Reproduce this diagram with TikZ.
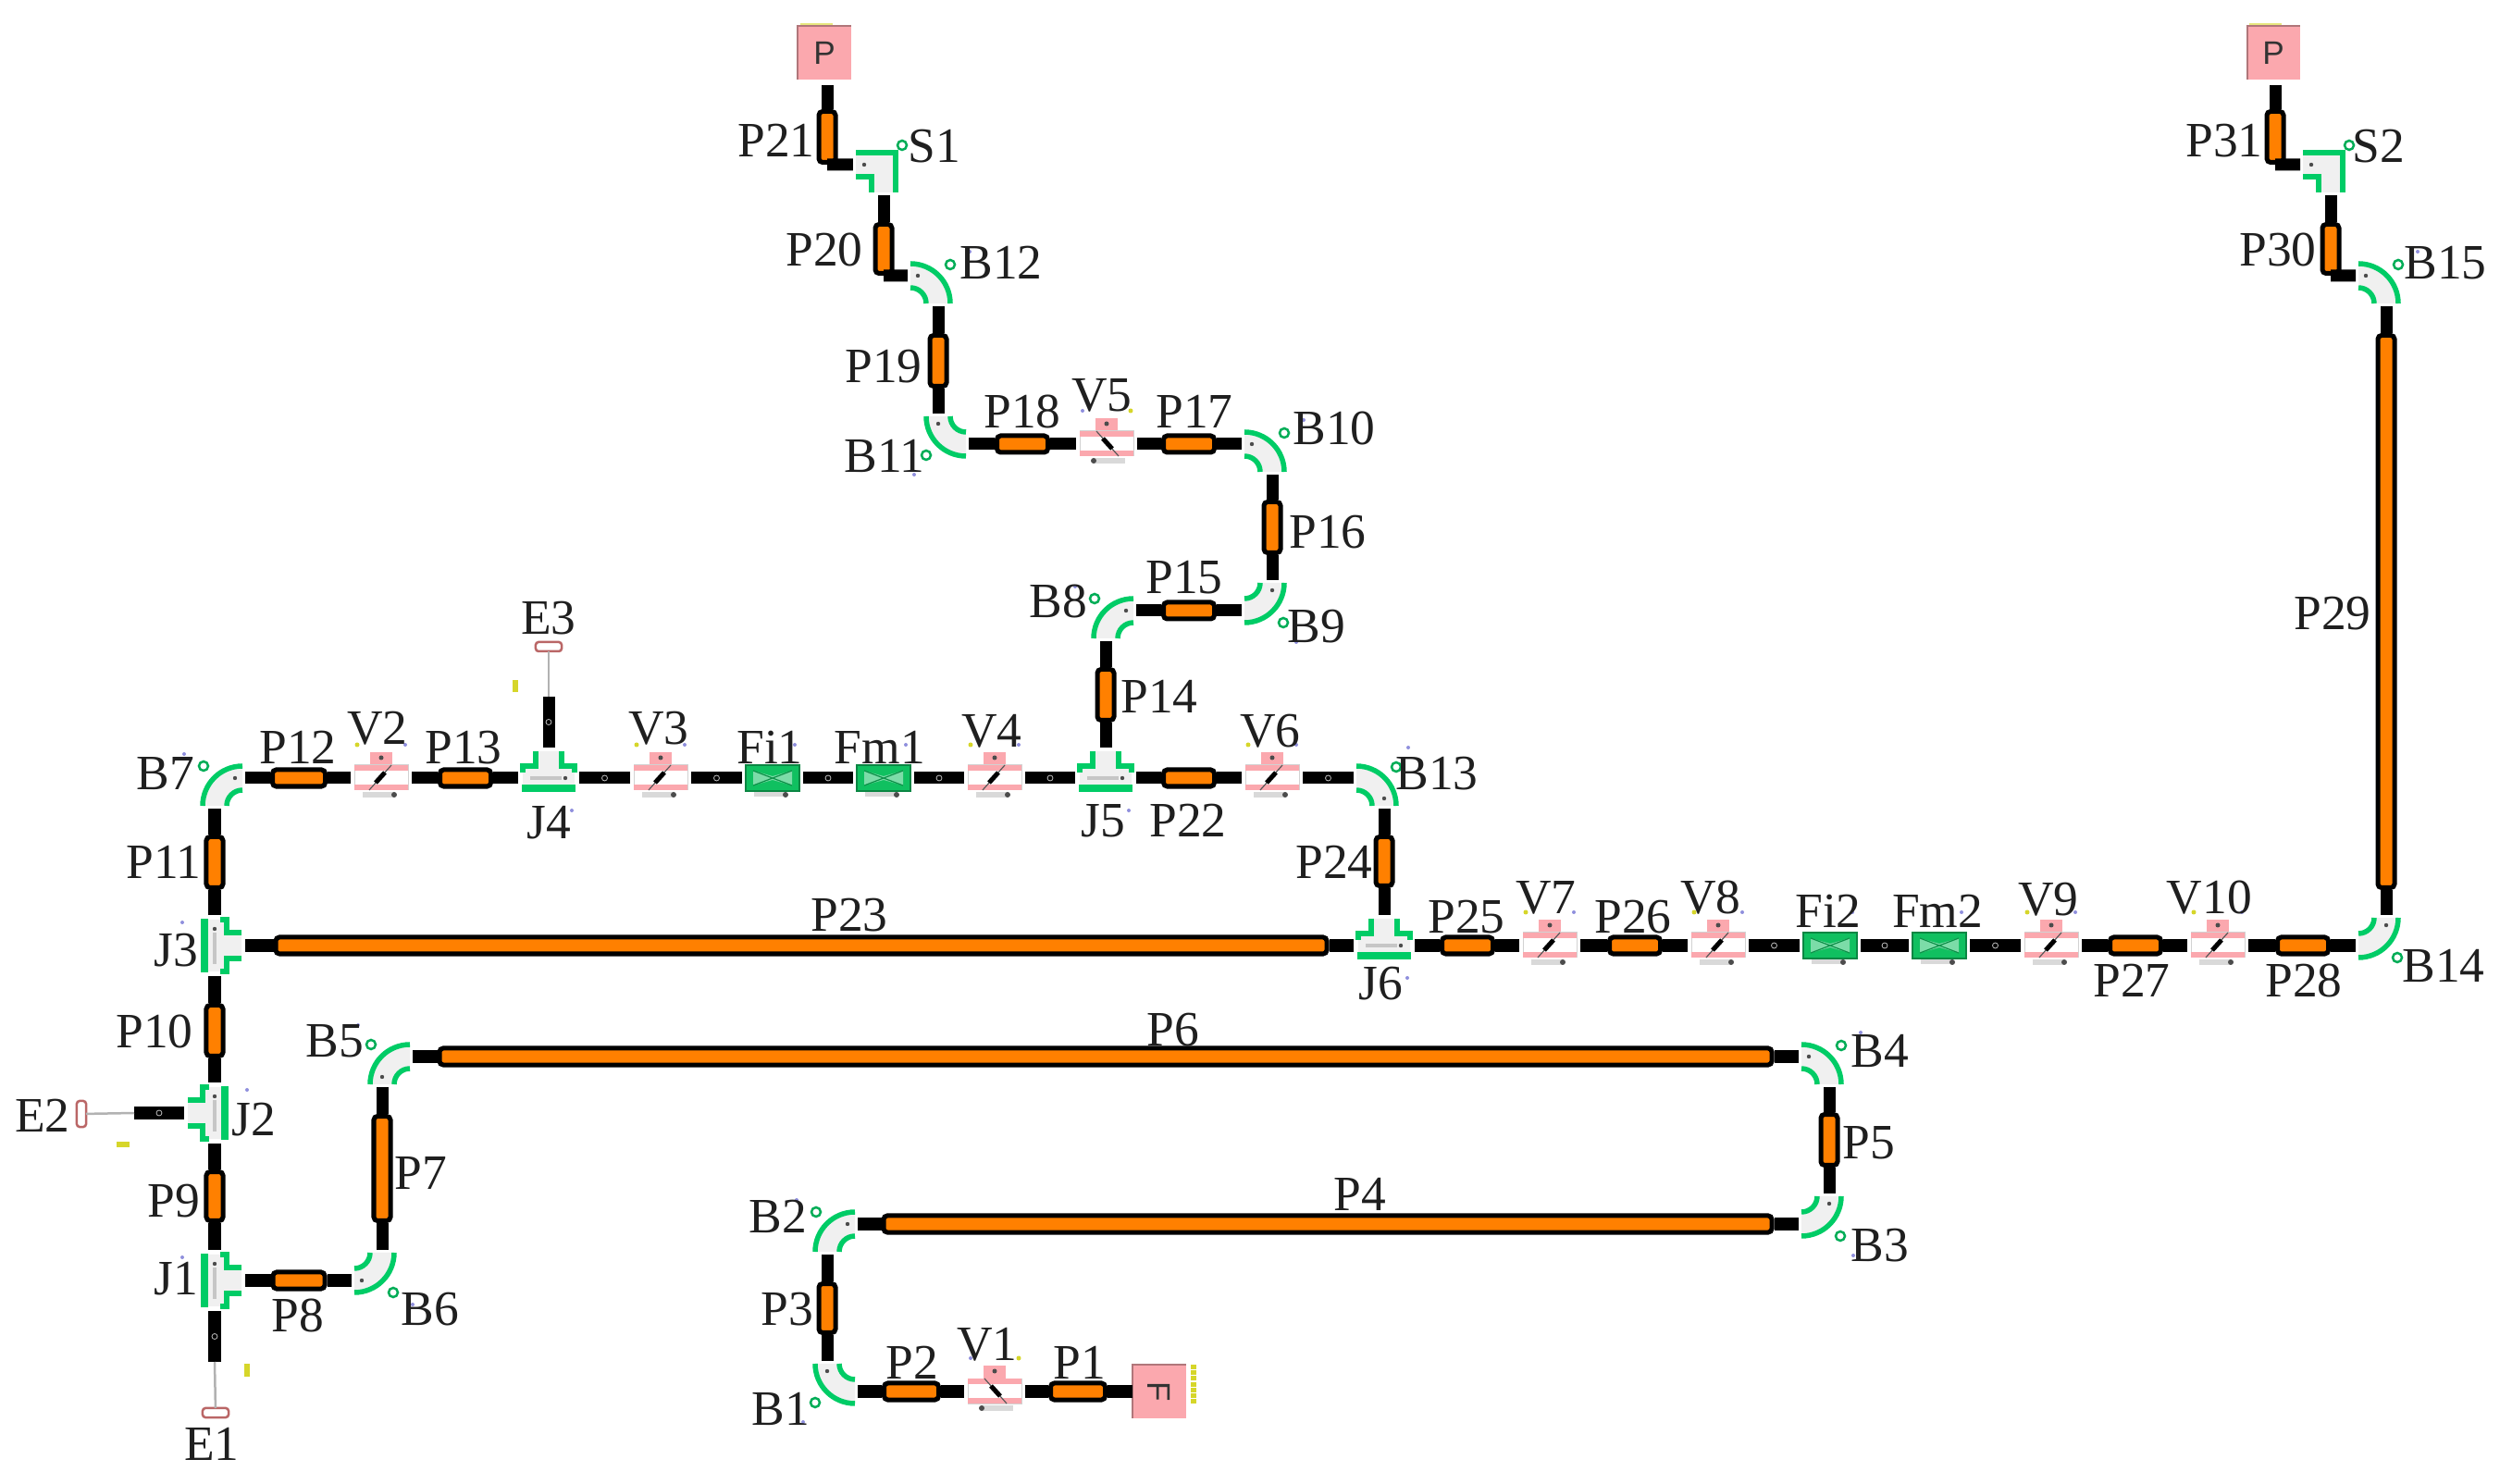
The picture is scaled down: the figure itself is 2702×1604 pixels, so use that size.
\documentclass[tikz,border=0pt]{standalone}
\usepackage{fontspec}
\setmainfont{Liberation Serif}
\newfontfamily\tagfont{Liberation Sans}
\usetikzlibrary{calc}
\definecolor{pipeorange}{HTML}{FF8000}
\definecolor{fitgreen}{HTML}{00CC66}
\definecolor{meterfill}{HTML}{10C060}
\definecolor{fitpink}{HTML}{FBA8AE}
\definecolor{dotyellow}{HTML}{D6D62A}
\definecolor{dotblue}{HTML}{8F8FDD}
\tikzset{
    lab/.style={font=\fontsize{15.2}{17}\selectfont, inner sep=0pt, text=black!88},
    pipe/.style={draw=black, fill=pipeorange, line width=.05cm, rounded corners=.04cm, inner sep=0pt},
    pipeh/.style={pipe, minimum width=#1*.01cm-.05cm, minimum height=.18cm},
    pipev/.style={pipe, minimum height=#1*.01cm-.05cm, minimum width=.18cm},
    port/.style={minimum size=.66cm, inner sep=0pt, outer sep=0pt},
    source/.style={fill=fitpink, minimum width=.57cm, minimum height=.58cm, inner sep=0pt, outer sep=0pt, font=\tagfont\fontsize{10}{10}\selectfont, text=black!80},
    endcap/.style={draw=red!55!black!60, fill=white, line width=.025cm, rounded corners=.03cm, minimum width=.28cm, minimum height=.1cm, inner sep=0pt, outer sep=0pt},
    stub/.style={line width=.13cm},
    thinpipe/.style={line width=.025cm, draw=gray!60},
    joint/.style={circle, draw=gray!50, fill=black, line width=.008cm, minimum size=.06cm, inner sep=0pt},
    fitline/.style={draw=fitgreen, line width=.055cm},
    fitbody/.style={fill=gray!12},
    ring/.style={draw=fitgreen!85!black, fill=white, line width=.025cm},
    tick/.style={fill=dotyellow, inner sep=0pt, minimum width=.06cm, minimum height=.13cm},
    bendfit/.pic={
        \bendbody
        \fill[black!70] (-22,0) circle (.022cm);
        \fill[dotblue] (34,-26) circle (.02cm);
    },
    bendalt/.pic={
        \bendbody
        \fill[black!70] (0,22) circle (.022cm);
        \fill[dotblue] (26,-33) circle (.02cm);
    },
    squarefit/.pic={
        \fill[fitbody] (-30,-13) -- (13,-13) -- (13,30) -- (-13,30) -- (-13,13) -- (-30,13) -- cycle;
        \draw[fitline] (-30,-13) -- (13,-13) -- (13,30);
        \draw[fitline] (-30,13) -- (-13,13) -- (-13,30);
        \draw[ring] (20,-21) circle (.05cm);
        \fill[black!70] (-21,0) circle (.022cm);
    },
    teefit/.pic={
        \fill[fitbody] (-14,-29) -- (-14,-13) -- (-28,-13) -- (-28,14) -- (28,14) -- (28,-13) -- (14,-13) -- (14,-29) -- cycle;
        \draw[fitline] (-14,-29) -- (-14,-13) -- (-28,-13) -- (-28,-6);
        \draw[fitline] (14,-29) -- (14,-13) -- (28,-13) -- (28,-6);
        \fill[fitgreen] (-29,7) rectangle (29,15);
        \fill[gray!45] (-20,-2) rectangle (14,2);
        \fill[black!70] (18,0) circle (.022cm);
        \fill[dotblue] (25,35) circle (.02cm);
    },
    valvefit/.pic={
        \fill[fitpink] (-12,-28) rectangle (12,-14);
        \fill[gray!30] (-20,15) rectangle (14,21);
        \fill[black!70] (14,18) circle (.03cm);
        \fill[white] (-29,-14) rectangle (29,13);
        \draw[gray!35, line width=.01cm] (-29,-14) rectangle (29,13);
        \fill[fitpink] (-29,-14) rectangle (29,-8);
        \fill[fitpink] (-29,7) rectangle (29,13);
        \draw[black!65, line width=.012cm] (-13,13) -- (11,-14);
        \draw[black, line width=.05cm] (-6,5) -- (4,-6);
        \fill[black!70] (0,-22) circle (.025cm);
        \fill[dotyellow] (-26,-36) circle (.025cm);
        \fill[dotblue] (26,-36) circle (.02cm);
    },
    meterfit/.pic={
        \fill[gray!30] (-20,15) rectangle (14,20);
        \fill[black!70] (14,18) circle (.03cm);
        \fill[meterfill] (-29,-14) rectangle (29,14);
        \draw[meterfill!70!black, line width=.015cm] (-29,-14) rectangle (29,14);
        \fill[meterfill!55!white] (-21,-8) -- (0,-2) -- (21,-8) -- (21,8) -- (0,2) -- (-21,8) -- cycle;
        \draw[meterfill!75!black, line width=.012cm] (-21,-8) -- (21,8) (-21,8) -- (21,-8);
        \fill[dotblue] (24,-36) circle (.02cm);
    },
}
\newcommand{\bendbody}{%
    \fill[fitbody] (-30,-13) .. controls (-6.25,-13) and (13,6.25) .. (13,30) -- (-13,30) .. controls (-13,20.6) and (-20.6,13) .. (-30,13) -- cycle;
    \draw[fitline] (-30,-13) .. controls (-6.25,-13) and (13,6.25) .. (13,30);
    \draw[fitline] (-30,13) .. controls (-20.6,13) and (-13,20.6) .. (-13,30);
    \draw[ring] (13,-12) circle (.05cm);
}

\begin{document}
\begin{tikzpicture}[x=.01cm, y=-.01cm]
    \useasboundingbox (0,0) rectangle (2702,1604);

    % sources and dead ends
    \node[source] (Src1) at (891,57) {P};
    \node[source] (Src2) at (2457,57) {P};
    \node[source] (Feed) at (1253,1504) {\rotatebox{-90}{F}};
    \node[endcap] (E1) at (233,1527) {};
    \node[endcap, rotate=90] (E2) at (88,1204) {};
    \node[endcap] (E3) at (593,699) {};
    \coordinate (E1s) at (232,1472);
    \coordinate (E2s) at (145,1203);
    \coordinate (E3s) at (593,753);
    \draw[fitpink!70!black, line width=.02cm] (Src1.south west) -- (Src1.north west) -- (Src1.north east);
    \draw[fitpink!70!black, line width=.02cm] (Src2.south west) -- (Src2.north west) -- (Src2.north east);
    \draw[fitpink!70!black, line width=.02cm] (Feed.south west) -- (Feed.north west) -- (Feed.north east);
    \fill[dotyellow!60] (865,25) rectangle (900,27);
    \fill[dotyellow!60] (2431,25) rectangle (2466,27);
    \draw[dotyellow, line width=.06cm, dash pattern=on .05cm off .012cm] (1290,1475) -- (1290,1517);
    \node[tick] (T1) at (267,1481) {};
    \node[tick, rotate=90] (T2) at (133,1237) {};
    \node[tick] (T3) at (557,742) {};

    % pipes
    \node[pipeh=64] (P1) at (1165,1504) {};
    \node[pipeh=64] (P2) at (985,1504) {};
    \node[pipev=58] (P3) at (894,1414) {};
    \node[pipeh=965] (P4) at (1435,1323) {};
    \node[pipev=60] (P5) at (1977,1232) {};
    \node[pipeh=1445] (P6) at (1195,1142) {};
    \node[pipev=118] (P7) at (413,1263) {};
    \node[pipeh=61] (P8) at (323,1384) {};
    \node[pipev=58] (P9) at (232,1293) {};
    \node[pipev=60] (P10) at (232,1114) {};
    \node[pipev=60] (P11) at (232,932) {};
    \node[pipeh=62] (P12) at (323,841) {};
    \node[pipeh=60] (P13) at (503,841) {};
    \node[pipev=60] (P14) at (1195,751) {};
    \node[pipeh=60] (P15) at (1285,660) {};
    \node[pipev=60] (P16) at (1375,570) {};
    \node[pipeh=60] (P17) at (1285,480) {};
    \node[pipeh=60] (P18) at (1105,480) {};
    \node[pipev=60] (P19) at (1014,390) {};
    \node[pipev=58] (P20) at (955,269) {};
    \node[pipev=60] (P21) at (894,148) {};
    \node[pipeh=60] (P22) at (1285,841) {};
    \node[pipeh=1141] (P23) at (866,1022) {};
    \node[pipev=58] (P24) at (1496,931) {};
    \node[pipeh=60] (P25) at (1586,1022) {};
    \node[pipeh=60] (P26) at (1767,1022) {};
    \node[pipeh=60] (P27) at (2308,1022) {};
    \node[pipeh=60] (P28) at (2489,1022) {};
    \node[pipev=602] (P29) at (2579,661) {};
    \node[pipev=58] (P30) at (2519,269) {};
    \node[pipev=60] (P31) at (2459,148) {};

    % bends sit on the corner of their two runs
    \node[port] (B1) at (894,1504) {};   \pic[rotate=180] at (B1) {bendalt};
    \node[port] (B2) at (894,1323) {};   \pic[rotate=90] at (B2) {bendalt};
    \node[port] (B3) at (1977,1323) {};  \pic[rotate=270] at (B3) {bendfit};
    \node[port] (B4) at (1977,1142) {};  \pic at (B4) {bendfit};
    \node[port] (B5) at (413,1142) {};   \pic[rotate=90] at (B5) {bendfit};
    \node[port] (B6) at (413,1384) {};   \pic[rotate=270] at (B6) {bendalt};
    \node[port] (B7) at (232,841) {};    \pic[rotate=90] at (B7) {bendalt};
    \node[port] (B8) at (1195,660) {};   \pic[rotate=90] at (B8) {bendalt};
    \node[port] (B9) at (1375,660) {};   \pic[rotate=270] at (B9) {bendfit};
    \node[port] (B10) at (1375,480) {};  \pic at (B10) {bendfit};
    \node[port] (B11) at (1014,480) {};  \pic[rotate=180] at (B11) {bendalt};
    \node[port] (B12) at (1014,298) {};  \pic at (B12) {bendfit};
    \node[port] (B13) at (1496,841) {};  \pic at (B13) {bendalt};
    \node[port] (B14) at (2579,1022) {}; \pic[rotate=270] at (B14) {bendfit};
    \node[port] (B15) at (2579,298) {};  \pic at (B15) {bendfit};
    \node[port] (S1) at (955,178) {};    \pic at (S1) {squarefit};
    \node[port] (S2) at (2519,178) {};   \pic at (S2) {squarefit};

    % junctions
    \node[port] (J1) at (232,1384) {};  \pic[rotate=270, xscale=-1] at (J1) {teefit};
    \node[port] (J2) at (232,1203) {};  \pic[rotate=90] at (J2) {teefit};
    \node[port] (J3) at (232,1022) {};  \pic[rotate=270, xscale=-1] at (J3) {teefit};
    \node[port] (J4) at (593,841) {};   \pic at (J4) {teefit};
    \node[port] (J5) at (1195,841) {};  \pic at (J5) {teefit};
    \node[port] (J6) at (1496,1022) {}; \pic at (J6) {teefit};

    % valves, filters, flow meters
    \node[port] (V1) at (1075,1504) {};  \pic[xscale=-1] at (V1) {valvefit};
    \node[port] (V2) at (412,841) {};    \pic at (V2) {valvefit};
    \node[port] (V3) at (714,841) {};    \pic at (V3) {valvefit};
    \node[port] (V4) at (1075,841) {};   \pic at (V4) {valvefit};
    \node[port] (V5) at (1196,480) {};   \pic[xscale=-1] at (V5) {valvefit};
    \node[port] (V6) at (1375,841) {};   \pic at (V6) {valvefit};
    \node[port] (V7) at (1675,1022) {};  \pic at (V7) {valvefit};
    \node[port] (V8) at (1857,1022) {};  \pic at (V8) {valvefit};
    \node[port] (V9) at (2217,1022) {};  \pic at (V9) {valvefit};
    \node[port] (V10) at (2397,1022) {}; \pic at (V10) {valvefit};
    \node[port] (Fi1) at (835,841) {};   \pic at (Fi1) {meterfit};
    \node[port] (Fm1) at (955,841) {};   \pic at (Fm1) {meterfit};
    \node[port] (Fi2) at (1978,1022) {}; \pic at (Fi2) {meterfit};
    \node[port] (Fm2) at (2096,1022) {}; \pic at (Fm2) {meterfit};

    % first line
    \draw[stub] (Feed) -- (P1);
    \draw[stub] (P1) -- (V1);
    \draw[stub] (V1) -- (P2);
    \draw[stub] (P2) -- (B1);
    \draw[stub] (B1) -- (P3);
    \draw[stub] (P3) -- (B2);
    \draw[stub] (B2) -- (P4);
    \draw[stub] (P4) -- (B3);
    \draw[stub] (B3) -- (P5);
    \draw[stub] (P5) -- (B4);
    \draw[stub] (B4) -- (P6);
    \draw[stub] (P6) -- (B5);
    \draw[stub] (B5) -- (P7);
    \draw[stub] (P7) -- (B6);
    \draw[stub] (B6) -- (P8);
    \draw[stub] (P8) -- (J1);
    \draw[stub] (J1) -- (P9);
    \draw[stub] (P9) -- (J2);
    \draw[stub] (J2) -- (P10);
    \draw[stub] (P10) -- (J3);
    \draw[stub] (J3) -- (P11);
    \draw[stub] (P11) -- (B7);
    \draw[stub] (B7) -- (P12);
    \draw[stub] (P12) -- (V2);
    \draw[stub] (V2) -- (P13);
    \draw[stub] (P13) -- (J4);
    \draw[stub] (J4) -- node[joint] (j1) {} (V3);
    \draw[stub] (V3) -- node[joint] (j2) {} (Fi1);
    \draw[stub] (Fi1) -- node[joint] (j3) {} (Fm1);
    \draw[stub] (Fm1) -- node[joint] (j4) {} (V4);
    \draw[stub] (V4) -- node[joint] (j5) {} (J5);
    \draw[stub] (J5) -- (P14);
    \draw[stub] (P14) -- (B8);
    \draw[stub] (B8) -- (P15);
    \draw[stub] (P15) -- (B9);
    \draw[stub] (B9) -- (P16);
    \draw[stub] (P16) -- (B10);
    \draw[stub] (B10) -- (P17);
    \draw[stub] (P17) -- (V5);
    \draw[stub] (V5) -- (P18);
    \draw[stub] (P18) -- (B11);
    \draw[stub] (B11) -- (P19);
    \draw[stub] (P19) -- (B12);
    \draw[stub] (B12.west) -- (P20.south);
    \draw[stub] (P20) -- (S1);
    \draw[stub] (S1.west) -- (P21.south);
    \draw[stub, shorten >=.06cm] (P21.north) -- (P21.north |- Src1.south);

    % second line
    \draw[stub] (J5) -- (P22);
    \draw[stub] (P22) -- (V6);
    \draw[stub] (V6) -- node[joint] (j6) {} (B13);
    \draw[stub] (B13) -- (P24);
    \draw[stub] (P24) -- (J6);
    \draw[stub] (J3) -- (P23);
    \draw[stub] (P23) -- (J6);
    \draw[stub] (J6) -- (P25);
    \draw[stub] (P25) -- (V7);
    \draw[stub] (V7) -- (P26);
    \draw[stub] (P26) -- (V8);
    \draw[stub] (V8) -- node[joint] (j7) {} (Fi2);
    \draw[stub] (Fi2) -- node[joint] (j8) {} (Fm2);
    \draw[stub] (Fm2) -- node[joint] (j9) {} (V9);
    \draw[stub] (V9) -- (P27);
    \draw[stub] (P27) -- (V10);
    \draw[stub] (V10) -- (P28);
    \draw[stub] (P28) -- (B14);
    \draw[stub] (B14) -- (P29);
    \draw[stub] (P29) -- (B15);
    \draw[stub] (B15.west) -- (P30.south);
    \draw[stub] (P30) -- (S2);
    \draw[stub] (S2.west) -- (P31.south);
    \draw[stub, shorten >=.06cm] (P31.north) -- (P31.north |- Src2.south);

    % dead ends
    \draw[stub] (J1) -- node[joint] (j10) {} (E1s);
    \draw[stub] (J2) -- node[joint] (j11) {} (E2s);
    \draw[stub] (J4) -- node[joint] (j12) {} (E3s);
    \draw[thinpipe] (E1s) -- (E1);
    \draw[thinpipe] (E2s) -- (E2);
    \draw[thinpipe] (E3s) -- (E3);

    % labels
    \node[lab] (lP1) at (1167,1473) {P1};   \node[lab] (lP2) at (986,1473) {P2};
    \node[lab] (lP3) at (851,1415) {P3};    \node[lab] (lP4) at (1470,1291) {P4};
    \node[lab] (lP5) at (2020,1235) {P5};   \node[lab] (lP6) at (1268,1113) {P6};
    \node[lab] (lP7) at (455,1268) {P7};    \node[lab] (lP8) at (322,1422) {P8};
    \node[lab] (lP9) at (188,1298) {P9};    \node[lab] (lP10) at (167,1115) {P10};
    \node[lab] (lP11) at (177,932) {P11};   \node[lab] (lP12) at (322,808) {P12};
    \node[lab] (lP13) at (501,808) {P13};   \node[lab] (lP14) at (1253,753) {P14};
    \node[lab] (lP15) at (1280,624) {P15};  \node[lab] (lP16) at (1435,575) {P16};
    \node[lab] (lP17) at (1291,445) {P17};  \node[lab] (lP18) at (1105,445) {P18};
    \node[lab] (lP19) at (955,396) {P19};   \node[lab] (lP20) at (891,270) {P20};
    \node[lab] (lP21) at (839,152) {P21};   \node[lab] (lP22) at (1284,887) {P22};
    \node[lab] (lP23) at (918,989) {P23};   \node[lab] (lP24) at (1442,932) {P24};
    \node[lab] (lP25) at (1585,991) {P25};  \node[lab] (lP26) at (1765,991) {P26};
    \node[lab] (lP27) at (2304,1060) {P27}; \node[lab] (lP28) at (2490,1060) {P28};
    \node[lab] (lP29) at (2521,663) {P29};  \node[lab] (lP30) at (2462,270) {P30};
    \node[lab] (lP31) at (2404,152) {P31};
    \node[lab] (lB1) at (844,1523) {B1};    \node[lab] (lB2) at (841,1315) {B2};
    \node[lab] (lB3) at (2032,1346) {B3};   \node[lab] (lB4) at (2032,1136) {B4};
    \node[lab] (lB5) at (362,1125) {B5};    \node[lab] (lB6) at (465,1415) {B6};
    \node[lab] (lB7) at (179,836) {B7};     \node[lab] (lB8) at (1144,650) {B8};
    \node[lab] (lB9) at (1423,677) {B9};    \node[lab] (lB10) at (1442,463) {B10};
    \node[lab] (lB11) at (956,493) {B11};   \node[lab] (lB12) at (1082,284) {B12};
    \node[lab] (lB13) at (1553,836) {B13};  \node[lab] (lB14) at (2641,1044) {B14};
    \node[lab] (lB15) at (2643,284) {B15};
    \node[lab] (lS1) at (1010,158) {S1};    \node[lab] (lS2) at (2571,158) {S2};
    \node[lab] (lJ1) at (190,1382) {J1};    \node[lab] (lJ2) at (274,1210) {J2};
    \node[lab] (lJ3) at (190,1027) {J3};    \node[lab] (lJ4) at (593,889) {J4};
    \node[lab] (lJ5) at (1192,887) {J5};    \node[lab] (lJ6) at (1492,1063) {J6};
    \node[lab] (lE1) at (229,1561) {E1};    \node[lab] (lE2) at (46,1206) {E2};
    \node[lab] (lE3) at (593,668) {E3};
    \node[lab] (lV1) at (1067,1453) {V1};   \node[lab] (lV2) at (408,787) {V2};
    \node[lab] (lV3) at (712,787) {V3};     \node[lab] (lV4) at (1072,790) {V4};
    \node[lab] (lV5) at (1191,427) {V5};    \node[lab] (lV6) at (1373,790) {V6};
    \node[lab] (lV7) at (1671,970) {V7};    \node[lab] (lV8) at (1849,970) {V8};
    \node[lab] (lV9) at (2214,972) {V9};    \node[lab] (lV10) at (2388,970) {V10};
    \node[lab] (lFi1) at (832,808) {Fi1};   \node[lab] (lFm1) at (951,808) {Fm1};
    \node[lab] (lFi2) at (1976,985) {Fi2};  \node[lab] (lFm2) at (2094,985) {Fm2};
\end{tikzpicture}
\end{document}
